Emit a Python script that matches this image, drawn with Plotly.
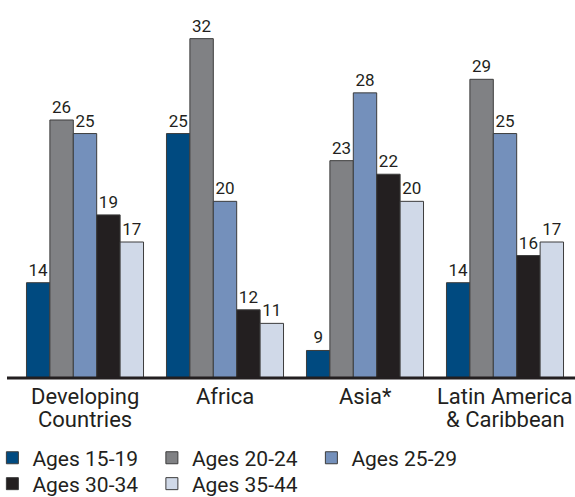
import plotly.graph_objects as go

categories = ["Developing<br>Countries", "Africa", "Asia*", "Latin America<br>& Caribbean"]
series_names = ["Ages 15-19", "Ages 20-24", "Ages 25-29", "Ages 30-34", "Ages 35-44"]
ages_15_19 = [14, 25, 9, 14]
ages_20_24 = [26, 32, 23, 29]
ages_25_29 = [25, 20, 28, 25]
ages_30_34 = [19, 12, 22, 16]
ages_35_44 = [17, 11, 20, 17]
series_values = [ages_15_19, ages_20_24, ages_25_29, ages_30_34, ages_35_44]
colors = ["#004a80", "#808184", "#7490bb", "#231f20", "#d0d9e8"]
legend_rows = ["legend", "legend", "legend", "legend2", "legend2"]

TEXT = "#231f20"
FONT = "Roboto, Liberation Sans, Arial, sans-serif"

fig = go.Figure()
for name, vals, col, lg in zip(series_names, series_values, colors, legend_rows):
    fig.add_trace(go.Bar(
        name=name, x=categories, y=vals, legend=lg,
        marker=dict(color=col, line=dict(color="#3c3c3c", width=1)),
        text=[str(v) for v in vals], textposition="outside",
        textfont=dict(size=17, color=TEXT, family=FONT),
        cliponaxis=False,
    ))

# category labels as annotations (one per line for tight line spacing)
annotations = []
for cat in categories:
    for i, line in enumerate(cat.split("<br>")):
        annotations.append(dict(
            x=cat, xref="x", y=0, yref="paper", yanchor="top", xanchor="center",
            text=line, showarrow=False, yshift=-4 - 23 * i,
            font=dict(size=22, color=TEXT, family=FONT),
        ))

legend_common = dict(orientation="h", xanchor="left", yanchor="top",
                     font=dict(size=21, color=TEXT, family=FONT),
                     entrywidth=114.5, entrywidthmode="pixels",
                     traceorder="normal", bgcolor="rgba(0,0,0,0)")

fig.update_layout(
    width=575, height=497,
    margin=dict(l=15, r=0, t=0, b=119, autoexpand=False),
    paper_bgcolor="white", plot_bgcolor="white",
    barmode="group", bargap=0.164, bargroupgap=0,
    font=dict(family=FONT, color=TEXT),
    xaxis=dict(showgrid=False, showline=False, ticks="", zeroline=False,
               showticklabels=False),
    yaxis=dict(range=[6.97, 34.85], visible=False, showgrid=False, zeroline=False),
    showlegend=True,
    legend=dict(x=-0.0404, y=-0.1577, **legend_common),
    legend2=dict(x=-0.0404, y=-0.2262, **legend_common),
    annotations=annotations,
    shapes=[dict(type="line", xref="paper", yref="paper", x0=-8/560, x1=1, y0=0, y1=0,
                 line=dict(color=TEXT, width=3))],
)

fig.write_html("out.html")
